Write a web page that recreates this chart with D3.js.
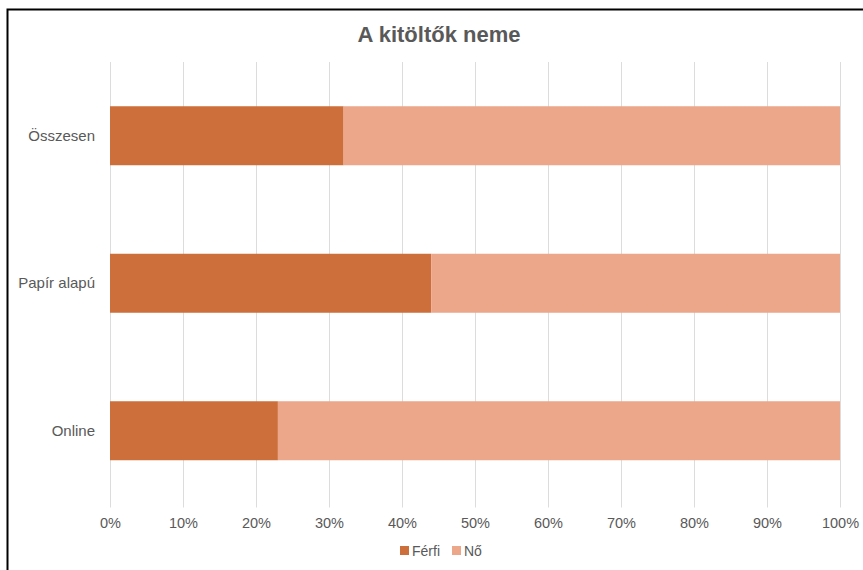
<!DOCTYPE html>
<html>
<head>
<meta charset="utf-8">
<script src="https://cdn.jsdelivr.net/npm/d3@7"></script>
<style>
  body { margin: 0; background: #fff; }
  svg { display: block; font-family: "Liberation Sans", Arial, sans-serif; }
</style>
</head>
<body>
<script>
const w = 863;
const h = 570;
const padding = { top: 62, left: 110, right: 23, bottom: 65.5 };

const categories = ['Összesen', 'Papír alapú', 'Online'];
const series = ['Férfi', 'Nő'];
const ferfi = [32, 44, 23];
const no = [68, 56, 77];
const ticks = [0, 10, 20, 30, 40, 50, 60, 70, 80, 90, 100];
const colors = ['#cd6f3a', '#eca68a'];

const rows = categories.map((c, i) => ({ cat: c, 'Férfi': ferfi[i], 'Nő': no[i] }));
const stacked = d3.stack().keys(series)(rows);

const svg = d3.select('body')
  .append('svg')
  .attr('width', w)
  .attr('height', h);

svg.append('rect')
  .attr('width', w)
  .attr('height', h)
  .attr('fill', '#fff');

// frame of the pasted chart
svg.append('path')
  .attr('d', `M7.5,${h} V9.5 H${w}`)
  .attr('fill', 'none')
  .attr('stroke', '#000')
  .attr('stroke-width', 2);

const xScale = d3.scaleLinear().domain([0, 100]).range([padding.left, w - padding.right]);
const yScale = d3.scaleBand().domain(categories).range([padding.top, h - padding.bottom]).paddingInner(0.6).paddingOuter(0.3);

// gridlines
svg.append('g')
  .selectAll('line')
  .data(ticks)
  .enter()
  .append('line')
  .attr('x1', (d) => xScale(d) + 0.5)
  .attr('x2', (d) => xScale(d) + 0.5)
  .attr('y1', padding.top)
  .attr('y2', h - padding.bottom + 3)
  .attr('stroke', '#dcdcdc')
  .attr('stroke-width', 1);

svg.append('g')
  .selectAll('g')
  .data(stacked)
  .enter()
  .append('g')
  .attr('fill', (d, i) => colors[i])
  .selectAll('rect')
  .data((d) => d)
  .enter()
  .append('rect')
  .attr('x', (d) => xScale(d[0]))
  .attr('y', (d) => yScale(d.data.cat))
  .attr('width', (d) => xScale(d[1]) - xScale(d[0]))
  .attr('height', yScale.bandwidth());

const xAxis = d3.axisBottom(xScale).tickValues(ticks).tickSize(0).tickPadding(13).tickFormat((d) => d + '%');
svg.append('g')
  .attr('transform', `translate(0, ${h - padding.bottom})`)
  .call(xAxis)
  .call((g) => g.select('.domain').remove())
  .selectAll('text')
  .attr('font-size', 14.5)
  .attr('fill', '#595959')
  .attr('font-family', '"Liberation Sans", Arial, sans-serif');

const yAxis = d3.axisLeft(yScale).tickSize(0).tickPadding(15);
svg.append('g')
  .attr('transform', `translate(${padding.left}, 0)`)
  .call(yAxis)
  .call((g) => g.select('.domain').remove())
  .selectAll('text')
  .attr('font-size', 15)
  .attr('fill', '#595959')
  .attr('font-family', '"Liberation Sans", Arial, sans-serif');

svg.append('text')
  .attr('x', 439)
  .attr('y', 42)
  .attr('text-anchor', 'middle')
  .attr('font-size', 22)
  .attr('font-weight', 'bold')
  .attr('fill', '#595959')
  .text('A kitöltők neme');

// legend
const legend = svg.append('g')
  .attr('transform', 'translate(400, 551)');

const legendX = [0, 52];
legend.selectAll('rect')
  .data(series)
  .enter()
  .append('rect')
  .attr('x', (d, i) => legendX[i])
  .attr('y', -5)
  .attr('width', 9)
  .attr('height', 9)
  .attr('fill', (d, i) => colors[i]);

legend.selectAll('text')
  .data(series)
  .enter()
  .append('text')
  .attr('x', (d, i) => legendX[i] + 12)
  .attr('y', 5)
  .attr('font-size', 14)
  .attr('fill', '#595959')
  .text((d) => d);
</script>
</body>
</html>
